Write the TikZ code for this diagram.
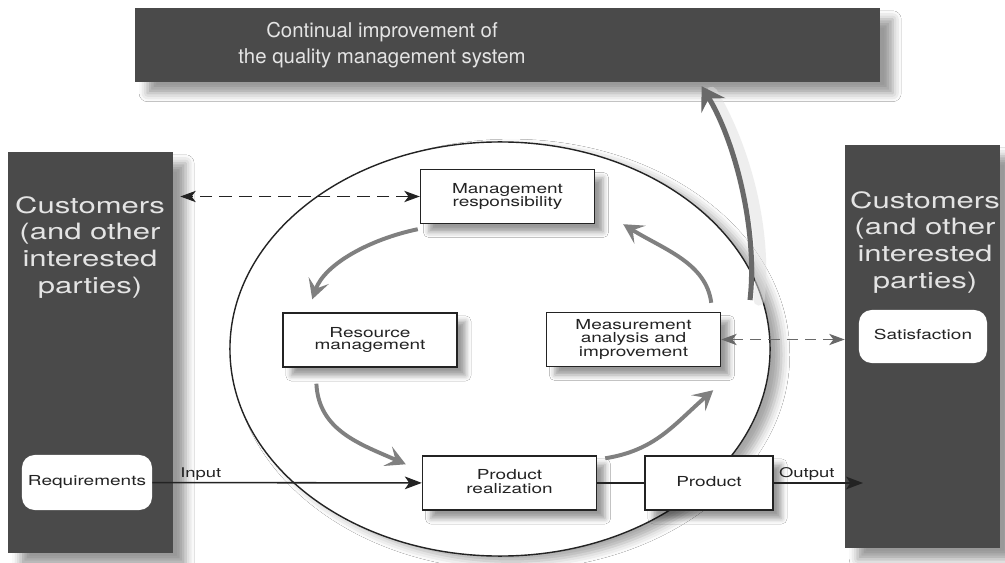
\documentclass[tikz,border=0pt]{standalone}
\usepackage{fontspec}
\setmainfont{TeX Gyre Heros}
\usepackage{graphicx}
\usetikzlibrary{arrows.meta,calc,shadows.blur}

\definecolor{boxgray}{RGB}{74,74,74}
\definecolor{paletext}{RGB}{228,228,228}
\definecolor{loopgray}{RGB}{128,128,128}
\definecolor{dashgray}{RGB}{105,105,105}
\definecolor{inkgray}{RGB}{35,35,35}

% wide letters, as in the original
\newcommand{\wtxt}[1]{\scalebox{1.38}[1]{\begin{tabular}{@{}c@{}}#1\end{tabular}}}

\tikzset{
  darkbox/.style={fill=boxgray, inner sep=0pt,
    blur shadow={shadow xshift=9pt, shadow yshift=-8pt, shadow blur radius=6pt, shadow opacity=40}},
  bigtext/.style={text=paletext, inner sep=0pt, font=\fontsize{16}{19}\selectfont},
  procbox/.style={draw=inkgray, line width=1pt, fill=white, text=inkgray,
    minimum width=4.35cm, minimum height=1.35cm, inner sep=0pt,
    font=\fontsize{9.8}{8}\selectfont,
    blur shadow={shadow xshift=6pt, shadow yshift=-6pt, shadow blur radius=4pt, shadow opacity=40}},
  softbox/.style={fill=white, rounded corners=9pt, text=inkgray,
    minimum width=3.25cm, minimum height=1.375cm, inner sep=0pt,
    font=\fontsize{9.8}{8}\selectfont},
  flowlab/.style={text=inkgray, inner sep=1pt, font=\fontsize{9.5}{8}\selectfont},
  flow/.style={draw=inkgray, line width=1.1pt, -{Stealth[length=12pt,width=9pt,inset=3pt]}},
  linkdash/.style={line width=1.1pt,
    {Stealth[length=11pt,width=8pt,inset=3pt]}-{Stealth[length=11pt,width=8pt,inset=3pt]}},
  turn/.style={draw=loopgray, line width=2.8pt, -{Stealth[length=14pt,width=15pt,inset=6pt]}},
}

\begin{document}
\begin{tikzpicture}[x=0.025cm, y=-0.025cm]
  \useasboundingbox (0,0) rectangle (1005,563);
  \fill[white] (0,0) rectangle (1005,563);

  % the cycle
  \draw[line width=1pt, draw=inkgray, fill=white,
    blur shadow={shadow xshift=8pt, shadow yshift=-4pt, shadow blur radius=6pt, shadow opacity=35}]
    (500,349) ellipse [x radius=6.75cm, y radius=5.175cm];

  % dark panels
  \node[darkbox, minimum width=18.625cm, minimum height=1.85cm] (topbox) at (507.5,45) {};
  \node[text=paletext, align=center, font=\fontsize{14.5}{18}\selectfont] (toplab) at (382,45)
    {Continual improvement of\\the quality management system};

  \node[darkbox, minimum width=4.125cm, minimum height=10.025cm] (custL) at (90.5,352.5) {};
  \node[bigtext] (custLlab) at (90,248) {\wtxt{Customers\\(and other\\interested\\parties)}};

  \node[darkbox, minimum width=3.875cm, minimum height=10.075cm] (custR) at (922.5,346.5) {};
  \node[bigtext] (custRlab) at (925,243) {\wtxt{Customers\\(and other\\interested\\parties)}};

  \node[softbox] (req) at (87,482.5) {\wtxt{Requirements}};
  \node[softbox, minimum width=3.2cm, minimum height=1.325cm] (sat) at (923,336.5) {\wtxt{Satisfaction}};

  % processes
  \node[procbox] (mgmt) at (507.5,196.5) {\wtxt{Management\\responsibility}};
  \node[procbox] (res) at (370,340) {\wtxt{Resource\\management}};
  \node[procbox] (meas) at (633.5,339.5) {\wtxt{Measurement\\analysis and\\improvement}};
  \node[procbox] (real) at (509.5,483) {\wtxt{Product\\realization}};
  \node[procbox, minimum width=3.2cm] (prod) at (709,483) {\wtxt{Product}};

  % input and output
  \draw[flow] (req) -- node[flowlab, pos=0.18, above] (inlab) {\wtxt{Input}} (real);
  \draw[draw=inkgray, line width=1.1pt] (real) -- (prod);
  \coordinate (outend) at (863,483);
  \draw[flow] (prod) -- node[flowlab, pos=0.37, above] (outlab) {\wtxt{Output}} (outend);

  % information flow
  \draw[linkdash, draw=inkgray, dash pattern=on 9pt off 5pt] (mgmt) -- ($(mgmt -| custL.east)+(7,0)$);
  \draw[linkdash, draw=dashgray, dash pattern=on 8pt off 5pt] (meas) -- (meas -| custR.west);

  % arrows of the cycle
  \draw[turn] ($(mgmt.south west)+(-2,5)$) .. controls +(-48,10) and +(12,-35) .. ($(res.north west)+(30,-13)$);
  \draw[turn, shorten <=0.4cm] (res.207) .. controls +(3,63) and +(-45,-20) .. ($(real.north west)+(-16,9)$);
  \draw[turn] ($(real.north east)+(8,3)$) .. controls +(50,-8) and +(-40,35) .. ($(meas.south east)+(-8,23)$);
  \draw[turn] ($(meas.north east)+(-10,-9)$) .. controls +(-5,-40) and +(40,25) .. ($(mgmt.south east)+(28,0)$);

  % continual improvement
  \coordinate (riseA) at (750,300);
  \draw[gray!25, line width=8pt, line cap=round, opacity=0.5]
    ($(riseA)+(9,0)$) .. controls +(8,-70) and +(33,54) .. ($(topbox.south west)+(577,10)$);
  \draw[dashgray, line width=3.6pt, -{Stealth[length=16pt,width=20pt,inset=6pt]}]
    (riseA) .. controls +(8,-70) and +(33,54) .. ($(topbox.south west)+(567,4)$);
\end{tikzpicture}
\end{document}
